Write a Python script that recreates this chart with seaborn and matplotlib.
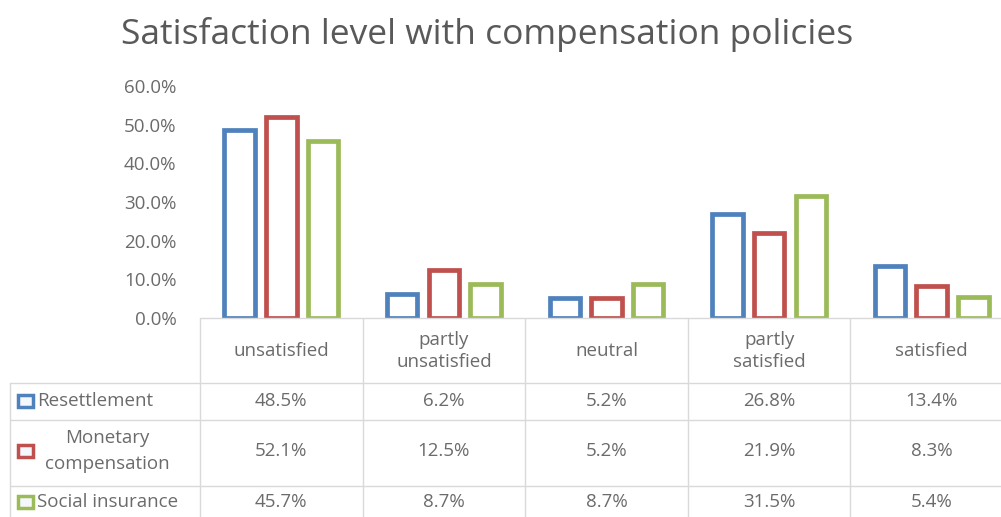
import matplotlib
matplotlib.use("Agg")
import matplotlib.pyplot as plt
import seaborn as sns
import pandas as pd
from matplotlib.patches import Rectangle
from matplotlib.lines import Line2D
from matplotlib.transforms import blended_transform_factory

# Data
categories = ["unsatisfied", "partly\nunsatisfied", "neutral", "partly\nsatisfied", "satisfied"]
series = ["Resettlement", "Monetary compensation", "Social insurance"]
row_labels = ["Resettlement", "Monetary\ncompensation", "Social insurance"]
resettlement = [48.5, 6.2, 5.2, 26.8, 13.4]
monetary = [52.1, 12.5, 5.2, 21.9, 8.3]
social = [45.7, 8.7, 8.7, 31.5, 5.4]
colors = ["#4F81BD", "#C0504D", "#9BBB59"]

values = [resettlement, monetary, social]
df = pd.DataFrame({
    "category": categories * 3,
    "series": [s for s in series for _ in categories],
    "value": resettlement + monetary + social,
})

sns.set_theme(style="white")
plt.rcParams["font.family"] = ["Open Sans", "DejaVu Sans"]

W, H = 1001, 517
text_color = "#6B6B6B"
grid_color = "#D9D9D9"
fs = 13.5


def fx(px):
    return px / W


def fy(py):
    return 1 - py / H


fig = plt.figure(figsize=(W / 100, H / 100), dpi=100)
ax = fig.add_axes([fx(200), fy(318), fx(1013) - fx(200), fy(86) - fy(318)])

sns.barplot(
    data=df, x="category", y="value", hue="series",
    palette=colors, fill=False, width=0.77, gap=0.27,
    linewidth=3.4, errorbar=None, legend=False, ax=ax
)

ax.set_xlim(-0.5, len(categories) - 0.5)
ax.set_ylim(0, 60)
ax.set_yticks(range(0, 61, 10))
ax.set_yticklabels([f"{v:.1f}%" for v in range(0, 61, 10)])
ax.tick_params(axis="y", length=0, pad=17, labelsize=fs, labelcolor=text_color)
ax.set_xticks([])
ax.set_xlabel("")
ax.set_ylabel("")
for sp in ax.spines.values():
    sp.set_visible(False)

fig.text(fx(487), fy(34), "Satisfaction level with compensation policies",
         ha="center", va="center", fontsize=25.5, color="#595959")

# Data table under the chart
blend = blended_transform_factory(ax.transData, fig.transFigure)

for i in range(len(categories) + 1):
    ax.add_line(Line2D([i - 0.5, i - 0.5], [fy(318), 0], transform=blend,
                       color=grid_color, lw=1, clip_on=False))

fig.add_artist(Line2D([fx(200), fx(1013)], [fy(318), fy(318)], color=grid_color, lw=1))
for py in [383, 420, 486]:
    fig.add_artist(Line2D([fx(10), fx(1013)], [fy(py), fy(py)], color=grid_color, lw=1))
fig.add_artist(Line2D([fx(10), fx(10)], [fy(383), 0], color=grid_color, lw=1))

for i, cat in enumerate(categories):
    ax.text(i, fy(351), cat, transform=blend, ha="center", va="center",
            fontsize=fs, color=text_color, linespacing=1.3)

row_y = [401, 451, 502]
for r, (label, vals, col) in enumerate(zip(row_labels, values, colors)):
    py = row_y[r]
    fig.add_artist(Rectangle((fx(18), fy(py + 6)), fx(15), fy(py - 6) - fy(py + 6),
                             facecolor="#F4F8FC", edgecolor=col, lw=2.5))
    if "\n" in label:
        fig.text(fx(107), fy(py), label, ha="center", va="center",
                 fontsize=fs, color=text_color, linespacing=1.6)
    else:
        fig.text(fx(37), fy(py), label, ha="left", va="center",
                 fontsize=fs, color=text_color)
    for i, v in enumerate(vals):
        ax.text(i, fy(py), f"{v:.1f}%", transform=blend, ha="center", va="center",
                fontsize=fs, color=text_color)

fig.savefig("out.png", dpi=100, facecolor="white")
